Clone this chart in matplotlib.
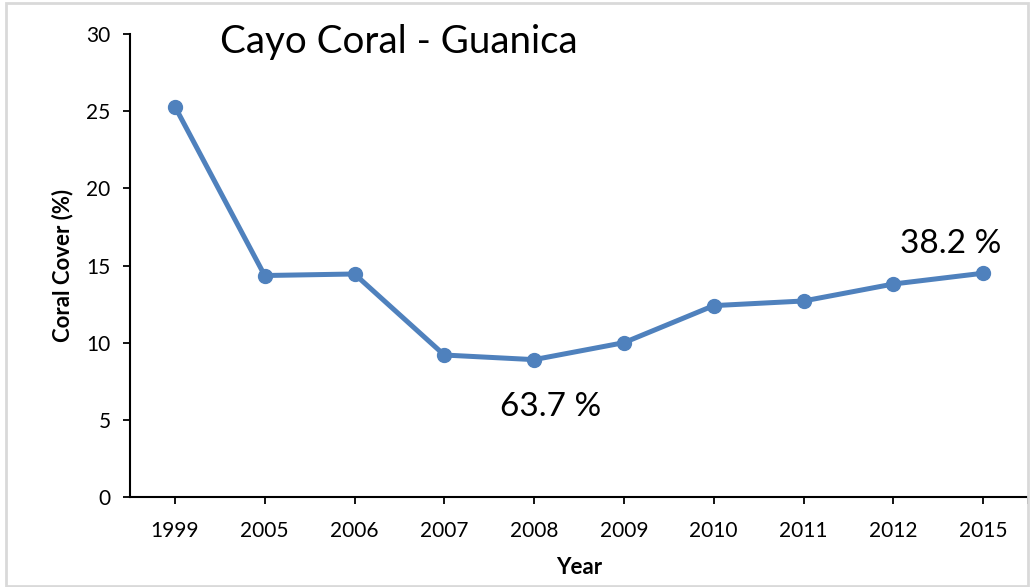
import matplotlib
matplotlib.use("Agg")
import matplotlib.pyplot as plt
from matplotlib.patches import Rectangle

plt.rcParams['font.family'] = ['Lato', 'DejaVu Sans']

years = ['1999', '2005', '2006', '2007', '2008', '2009', '2010', '2011', '2012', '2015']
cover = [25.3, 14.35, 14.45, 9.2, 8.9, 10.0, 12.4, 12.7, 13.8, 14.5]
notes = [('63.7 %', 4, 8.9), ('38.2 %', 9, 14.5)]

fig = plt.figure(figsize=(10.3, 5.87), dpi=100)
ax = fig.add_axes([130 / 1030, 90 / 587, 898 / 1030, 463 / 587])

x = list(range(len(years)))
ax.plot(x, cover, color='#4F81BD', lw=3.6, marker='o', ms=10,
        solid_joinstyle='round', zorder=3)

ax.set_xlim(-0.5, len(years) - 0.5)
ax.set_ylim(0, 30)
ax.set_yticks(range(0, 31, 5))
ax.set_xticks(x)
ax.set_xticklabels(years)
ax.set_xticks([len(years) - 0.5], minor=True)

for s in ['top', 'right']:
    ax.spines[s].set_visible(False)
for s in ['left', 'bottom']:
    ax.spines[s].set_linewidth(1.5)
    ax.spines[s].set_color('black')

ax.tick_params(axis='both', which='both', direction='out', length=5, width=1.3,
               labelsize=15)
ax.tick_params(axis='x', pad=12)
ax.tick_params(axis='y', pad=9)

ax.set_ylabel('Coral Cover (%)', fontsize=16, fontweight='bold', labelpad=9)
ax.set_xlabel('Year', fontsize=16, fontweight='bold', labelpad=12)

ax.text(0.1, 0.982, 'Cayo Coral - Guanica', transform=ax.transAxes,
        fontsize=27.7, va='center', ha='left')

# percent-change labels
ax.annotate(notes[0][0], (notes[0][1], notes[0][2]), xytext=(12, -34),
            textcoords='offset points', ha='center', va='center', fontsize=24)
ax.annotate(notes[1][0], (notes[1][1], notes[1][2]), xytext=(-23, 21),
            textcoords='offset points', ha='center', va='center', fontsize=24)

fig.patches.append(Rectangle((6 / 1030, 1 / 587), 1022 / 1030, 583 / 587,
                             transform=fig.transFigure, fill=False,
                             edgecolor='#D9D9D9', lw=2))

fig.savefig('out.png', dpi=100)
